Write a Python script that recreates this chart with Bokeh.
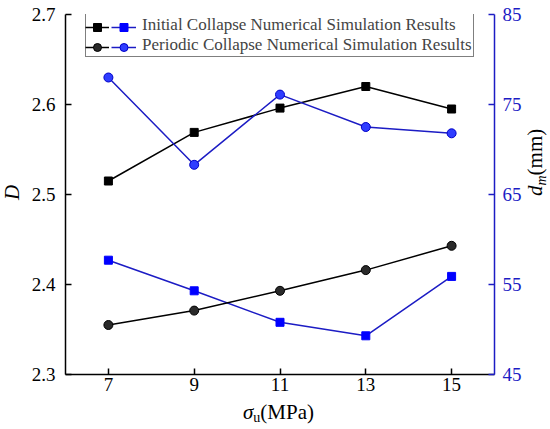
from bokeh.plotting import figure
from bokeh.layouts import row, column
from bokeh.models import (Range1d, LinearAxis, Legend, LegendItem, Div,
                          FixedTicker, PrintfTickFormatter)
from bokeh.embed import file_html
from bokeh.resources import INLINE

# ---- data ----
sigma_u = [7, 9, 11, 13, 15]
D_initial = [2.515, 2.569, 2.596, 2.620, 2.595]
D_periodic = [2.355, 2.371, 2.393, 2.416, 2.443]
dm_initial = [57.7, 54.3, 50.8, 49.3, 55.9]
dm_periodic = [78.0, 68.3, 76.1, 72.5, 71.8]
x_ticks = [7, 9, 11, 13, 15]
D_ticks = [2.3, 2.4, 2.5, 2.6, 2.7]
dm_ticks = [45, 55, 65, 75, 85]
series_labels = ["Initial Collapse Numerical Simulation Results",
                 "Periodic Collapse Numerical Simulation Results"]

FONT = "Liberation Serif"
BLUE = "#0000ff"
BLUE_AX = "#1c1cc4"

fig = figure(frame_width=429, frame_height=360,
             x_range=Range1d(6, 16), y_range=Range1d(2.3, 2.7),
             output_backend="svg", toolbar_location=None,
             min_border_left=41, min_border_right=34,
             min_border_top=14, min_border_bottom=28)
fig.title.visible = False
fig.extra_y_ranges = {"dm": Range1d(45, 85)}
fig.xgrid.visible = False
fig.ygrid.visible = False
fig.outline_line_color = None
fig.background_fill_color = "white"

right = LinearAxis(y_range_name="dm")
fig.add_layout(right, "right")

def style_axis(ax, color, standoff):
    ax.axis_line_color = color
    ax.axis_line_width = 1.5
    ax.major_tick_line_color = color
    ax.major_tick_line_width = 1.5
    ax.major_tick_in = 6
    ax.major_tick_out = 0
    ax.minor_tick_in = 0
    ax.minor_tick_out = 0
    ax.major_label_text_font = FONT
    ax.major_label_text_font_size = "19px"
    ax.major_label_text_color = color
    ax.major_label_standoff = standoff
    ax.axis_label = None

style_axis(fig.xaxis[0], "black", 3)
style_axis(fig.yaxis[0], "black", 10)
style_axis(right, BLUE_AX, 8)
fig.xaxis[0].ticker = FixedTicker(ticks=x_ticks)
fig.yaxis[0].ticker = FixedTicker(ticks=D_ticks)
fig.yaxis[0].formatter = PrintfTickFormatter(format="%.1f")
right.ticker = FixedTicker(ticks=dm_ticks)

# ---- series ----
l1 = fig.line(sigma_u, D_initial, line_color="black", line_width=1.5)
s1 = fig.scatter(sigma_u, D_initial, marker="square", size=8,
                 fill_color="black", line_color="black")
l2 = fig.line(sigma_u, dm_initial, line_color=BLUE_AX, line_width=1.5,
              y_range_name="dm")
s2 = fig.scatter(sigma_u, dm_initial, marker="square", size=8,
                 fill_color=BLUE, line_color=BLUE, y_range_name="dm")
l3 = fig.line(sigma_u, D_periodic, line_color="black", line_width=1.5)
s3 = fig.scatter(sigma_u, D_periodic, marker="circle", size=9,
                 fill_color="#2a2a2a", line_color="black")
l4 = fig.line(sigma_u, dm_periodic, line_color=BLUE_AX, line_width=1.5,
              y_range_name="dm")
s4 = fig.scatter(sigma_u, dm_periodic, marker="circle", size=9,
                 fill_color="#2f3dff", line_color="#0000c8", y_range_name="dm")
dummy = fig.scatter([], [], marker="square", size=1, alpha=0)

common = dict(padding=1, spacing=0, label_height=20, glyph_height=20,
              label_standoff=3, label_text_font=FONT,
              label_text_font_size="17px", margin=0)

main_leg = Legend(items=[LegendItem(label=series_labels[0], renderers=[dummy]),
                         LegendItem(label=series_labels[1], renderers=[dummy])],
                  location=(20, 317), glyph_width=52,
                  border_line_color="black", border_line_width=1,
                  background_fill_color="white", background_fill_alpha=1,
                  **common)
blk_leg = Legend(items=[LegendItem(label="", renderers=[l1, s1]),
                        LegendItem(label="", renderers=[l3, s3])],
                 location=(20, 317), glyph_width=24,
                 border_line_color=None, background_fill_alpha=0, **common)
blu_leg = Legend(items=[LegendItem(label="", renderers=[l2, s2]),
                        LegendItem(label="", renderers=[l4, s4])],
                 location=(46, 317), glyph_width=25,
                 border_line_color=None, background_fill_alpha=0, **common)
fig.add_layout(main_leg)
fig.add_layout(blk_leg)
fig.add_layout(blu_leg)

# ---- axis titles as HTML text (italics / subscripts) ----
TXT = ("position:absolute;white-space:nowrap;font-family:'Liberation Serif';"
       "font-size:21px;line-height:1;color:black;")
ROT = "transform:rotate(-90deg);transform-origin:0 0;"

left_div = Div(width=24, height=402, margin=0, text=(
    '<div style="position:relative;width:24px;height:402px;">'
    f'<span style="{TXT}{ROT}left:2.4px;top:200px;font-style:italic;">D</span>'
    '</div>'))

right_div = Div(width=22, height=402, margin=0, text=(
    '<div style="position:relative;width:22px;height:402px;">'
    f'<span style="{TXT}{ROT}left:-2.6px;top:196px;">'
    '<i>d</i><span style="font-size:14px;font-style:italic;position:relative;top:4px;">m</span>(mm)'
    '</span></div>'))

bottom_div = Div(width=550, height=27, margin=0, text=(
    '<div style="position:relative;width:550px;height:27px;">'
    f'<span style="{TXT}left:243px;top:0.4px;">'
    '<i>σ</i><span style="font-size:14px;position:relative;top:3px;">u</span>(MPa)'
    '</span></div>'))

p = column(row(left_div, fig, right_div, spacing=0), bottom_div, spacing=0)

open("out.html", "w").write(file_html(p, INLINE))
